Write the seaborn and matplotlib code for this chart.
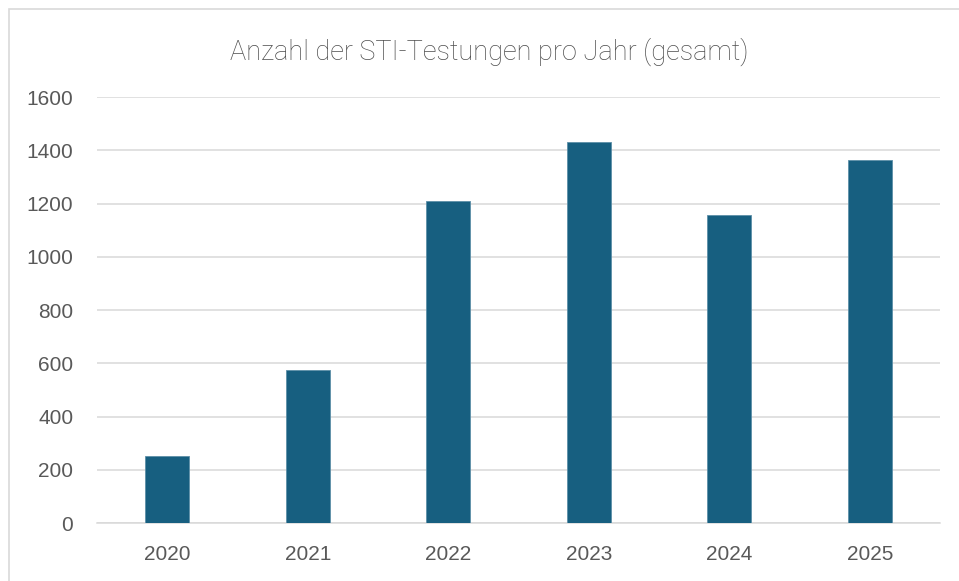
import matplotlib
matplotlib.use('Agg')
import matplotlib.pyplot as plt
import matplotlib.patches as patches
import pandas as pd
import seaborn as sns

# Data
years = ['2020', '2021', '2022', '2023', '2024', '2025']
tests = [250, 575, 1208, 1430, 1157, 1365]
y_ticks = [0, 200, 400, 600, 800, 1000, 1200, 1400, 1600]

df = pd.DataFrame({'year': years, 'tests': tests})

sns.set_style('white')
plt.rcParams['font.family'] = ['Liberation Sans', 'DejaVu Sans']

fig = plt.figure(figsize=(9.59, 5.81), dpi=100)
ax = fig.add_axes([0.1011, 0.0998, 0.8791, 0.7332])

sns.barplot(data=df, x='year', y='tests', color='#175f80', width=0.313,
            saturation=1, edgecolor='#5d8fa8', linewidth=0.6, ax=ax, zorder=3)

ax.set_ylim(0, 1600)
ax.set_xlim(-0.5, 5.5)
ax.set_yticks(y_ticks)
ax.set_yticklabels([str(t) for t in y_ticks])
ax.yaxis.grid(True, color='#d9d9d9', linewidth=1.1, zorder=0)
ax.set_axisbelow(True)
for s in ['top', 'right', 'left']:
    ax.spines[s].set_visible(False)
ax.spines['bottom'].set_color('#d9d9d9')
ax.spines['bottom'].set_linewidth(1.1)
ax.tick_params(axis='both', length=0, labelsize=15, labelcolor='#595959')
ax.tick_params(axis='y', pad=17)
ax.tick_params(axis='x', pad=16)
ax.set_xlabel('')
ax.set_ylabel('')

fig.text(0.51, 1 - 60 / 581, 'Anzahl der STI-Testungen pro Jahr (gesamt)',
         ha='center', va='baseline', fontsize=19.5, color='#4d4d4d',
         family=['Roboto', 'DejaVu Sans'], fontweight='light')

# light frame around the chart
fig.patches.append(patches.Rectangle((9 / 959, -0.1), 1.2, 1.1 - 9 / 581,
                                     transform=fig.transFigure, fill=False,
                                     edgecolor='#d9d9d9', linewidth=1.2))

plt.savefig('out.png', dpi=100)
